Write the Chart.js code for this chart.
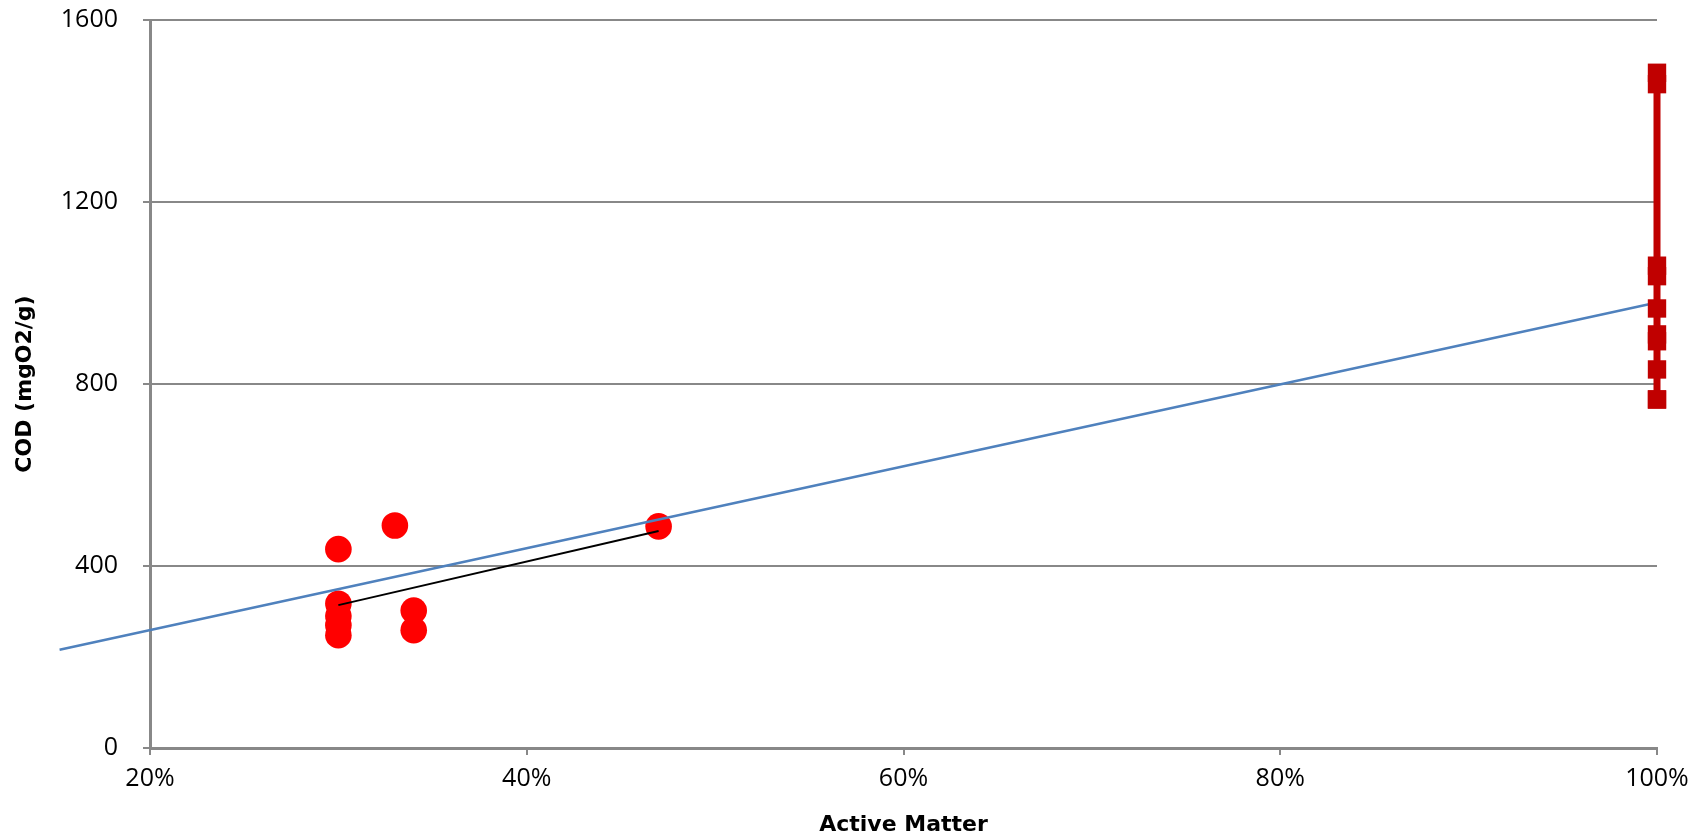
<!DOCTYPE html>
<html>
<head>
<meta charset="utf-8">
<script src="https://cdn.jsdelivr.net/npm/chart.js@4/dist/chart.umd.min.js"></script>
<style>
  html, body { margin: 0; padding: 0; background: #ffffff; }
  #wrap { width: 1704px; height: 838px; position: relative; }
</style>
</head>
<body>
<div id="wrap"><canvas id="chart"></canvas></div>
<script>
// Active matter (%) and COD (mgO2/g) of the diluted samples
const sampleActive = [30, 30, 30, 30, 30, 33, 34, 34, 47];
const sampleCod    = [437, 317, 290, 270, 248, 489, 302, 259, 487];

// Pure product (100 % active matter)
const pureActive = [100, 100, 100, 100, 100, 100, 100, 100, 100, 100];
const pureCod    = [1484, 1459, 1060, 1037, 966, 909, 894, 832, 766, 766];

// Linear trend through all measurements
const trendActive = [15.2, 100];
const trendCod    = [216, 979];

// Segment linking the 30 % and 47 % samples
const linkActive = [30, 47];
const linkCod    = [314, 477];

// Axis ticks
const xTicks = [20, 40, 60, 80, 100];
const yTicks = [0, 400, 800, 1200, 1600];

const toPoints = (xs, ys) => xs.map((x, i) => ({ x: x, y: ys[i] }));

const gridGrey = '#888888';
const tickFont = { family: '"Open Sans", sans-serif', size: 25 };
const titleFont = { family: '"DejaVu Sans", sans-serif', size: 22, weight: 'bold' };

new Chart(document.getElementById('chart'), {
  type: 'scatter',
  data: {
    datasets: [
      {
        label: 'Pure product',
        data: toPoints(pureActive, pureCod),
        showLine: true,
        borderColor: '#C00000',
        backgroundColor: '#C00000',
        borderWidth: 7,
        pointStyle: 'rect',
        pointRadius: 13,
        pointBorderWidth: 0,
        clip: false
      },
      {
        label: 'Trend',
        data: toPoints(trendActive, trendCod),
        showLine: true,
        borderColor: '#4F81BD',
        borderWidth: 2.5,
        pointRadius: 0,
        clip: false
      },
      {
        label: 'Link',
        data: toPoints(linkActive, linkCod),
        showLine: true,
        borderColor: '#000000',
        borderWidth: 2,
        pointRadius: 0
      },
      {
        label: 'Samples',
        data: toPoints(sampleActive, sampleCod),
        showLine: false,
        backgroundColor: '#FF0000',
        borderColor: '#FF0000',
        pointRadius: 13.3,
        pointBorderWidth: 0,
        clip: false
      }
    ]
  },
  options: {
    responsive: true,
    maintainAspectRatio: false,
    animation: false,
    layout: { padding: { top: 20, right: 47, left: 0, bottom: 0 } },
    plugins: {
      legend: { display: false },
      tooltip: { enabled: false }
    },
    scales: {
      x: {
        type: 'linear',
        min: xTicks[0],
        max: xTicks[xTicks.length - 1],
        afterBuildTicks: s => { s.ticks = xTicks.map(v => ({ value: v })); },
        afterFit: s => { s.height = 90; },
        border: { display: true, color: gridGrey, width: 3 },
        grid: { drawOnChartArea: false, drawTicks: true, tickLength: 7, color: gridGrey, lineWidth: 2 },
        ticks: {
          color: '#000000',
          font: tickFont,
          padding: 9,
          maxRotation: 0,
          callback: v => v + '%'
        },
        title: {
          display: true,
          text: 'Active Matter',
          color: '#000000',
          font: titleFont,
          padding: { top: 0, bottom: 0 }
        }
      },
      y: {
        type: 'linear',
        min: yTicks[0],
        max: yTicks[yTicks.length - 1],
        afterBuildTicks: s => { s.ticks = yTicks.map(v => ({ value: v })); },
        afterFit: s => { s.width = 150; s.paddingTop = 0; s.paddingBottom = 0; },
        border: { display: true, color: gridGrey, width: 3 },
        grid: { drawOnChartArea: true, drawTicks: true, tickLength: 7, color: gridGrey, lineWidth: 2 },
        ticks: {
          color: '#000000',
          font: tickFont,
          padding: 25,
          callback: v => String(v)
        },
        title: {
          display: true,
          text: 'COD (mgO2/g)',
          color: '#000000',
          font: titleFont,
          padding: { top: 12, bottom: 0 }
        }
      }
    }
  }
});
</script>
</body>
</html>
